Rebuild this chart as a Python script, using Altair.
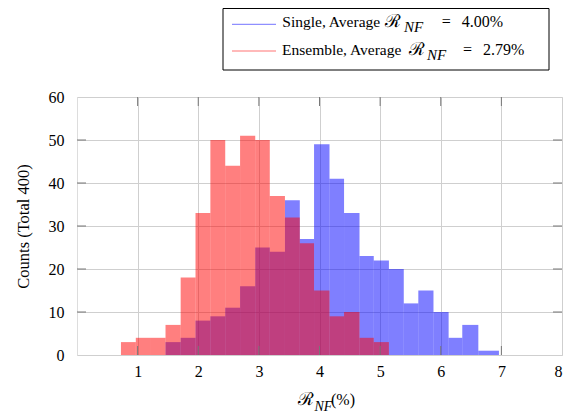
import altair as alt
import pandas as pd

# ---- data ----
bin_edges = [0.725, 0.97, 1.22, 1.46, 1.71, 1.955, 2.20, 2.445, 2.69, 2.94, 3.18,
             3.43, 3.675, 3.91, 4.165, 4.405, 4.66, 4.895, 5.145, 5.39, 5.63,
             5.88, 6.13, 6.355, 6.62, 6.96]
single_counts = [0, 0, 0, 3, 4, 8, 9, 11, 16, 25, 24, 36, 27, 49, 41, 33, 23, 22,
                 20, 12, 15, 10, 4, 7, 1]
ensemble_counts = [3, 4, 4, 7, 18, 33, 50, 44, 51, 50, 37, 32, 26, 15, 9, 10, 4, 3,
                   0, 0, 0, 0, 0, 0, 0]
series_names = ["Single", "Ensemble"]
series_avg = ["4.00%", "2.79%"]
x_ticks = [1, 2, 3, 4, 5, 6, 7, 8]
y_ticks = [0, 10, 20, 30, 40, 50, 60]

rows = []
for name, counts in zip(series_names, [single_counts, ensemble_counts]):
    for i, c in enumerate(counts):
        if c > 0:
            rows.append({"series": name, "x0": bin_edges[i], "x1": bin_edges[i + 1], "count": c})
df = pd.DataFrame(rows)

W, H = 485, 258
FONT = "Liberation Serif"
TICK = 9

xs = alt.Scale(domain=[0, 8], nice=False, zero=False)
ys = alt.Scale(domain=[0, 60], nice=False)

base_x = alt.X("x0:Q", scale=xs,
               axis=alt.Axis(values=x_ticks, format="d", grid=True, gridColor="#cfcfcf", ticks=False,
                             domain=False, labelPadding=8, labelFont=FONT, labelFontSize=16,
                             labelColor="black", title=None))
base_y = alt.Y("count:Q", scale=ys,
               axis=alt.Axis(values=y_ticks, format="d", grid=True, gridColor="#cfcfcf", ticks=False,
                             domain=False, labelPadding=13, labelFont=FONT, labelFontSize=16,
                             labelColor="black", title="Counts (Total 400)", titleFont=FONT,
                             titleFontSize=16.5, titleFontWeight="normal", titleColor="black",
                             titlePadding=17))

bars = alt.Chart(df).mark_rect(opacity=0.5).encode(
    x=base_x, x2="x1:Q", y=base_y, y2=alt.datum(0),
    color=alt.Color("series:N", scale=alt.Scale(domain=series_names, range=["#0000ff", "#ff0000"]),
                    legend=None),
)

single = bars.transform_filter(alt.datum.series == "Single")
ensemble = bars.transform_filter(alt.datum.series == "Ensemble")

xt = pd.DataFrame({"v": x_ticks[:-1]})
yt = pd.DataFrame({"v": y_ticks[1:-1]})
tick_col = "#777777"
xt_bot = alt.Chart(xt).mark_rule(color=tick_col).encode(
    x=alt.X("v:Q", scale=xs), y=alt.value(H), y2=alt.value(H - TICK))
xt_top = alt.Chart(xt).mark_rule(color=tick_col).encode(
    x=alt.X("v:Q", scale=xs), y=alt.value(0), y2=alt.value(TICK))
yt_left = alt.Chart(yt).mark_rule(color=tick_col).encode(
    y=alt.Y("v:Q", scale=ys), x=alt.value(0), x2=alt.value(TICK))
yt_right = alt.Chart(yt).mark_rule(color=tick_col).encode(
    y=alt.Y("v:Q", scale=ys), x=alt.value(W - TICK), x2=alt.value(W))

one = pd.DataFrame({"a": [0]})


def txt(s, x, y, size=15.5, italic=False, font=FONT):
    return alt.Chart(one).mark_text(
        text=s, align="left", baseline="alphabetic", font=font, fontSize=size,
        fontStyle="italic" if italic else "normal", color="black"
    ).encode(x=alt.value(x), y=alt.value(y))


SCRIPT_FONT = "DejaVu Serif"

# legend box
legend_box = alt.Chart(one).mark_rect(fill="white", stroke="black", strokeWidth=1).encode(
    x=alt.value(146), x2=alt.value(472), y=alt.value(-88.5), y2=alt.value(-27))
leg_line1 = alt.Chart(one).mark_rule(color="#0000ff", opacity=0.55).encode(
    x=alt.value(155), x2=alt.value(199), y=alt.value(-72.7))
leg_line2 = alt.Chart(one).mark_rule(color="#ff0000", opacity=0.55).encode(
    x=alt.value(155), x2=alt.value(199), y=alt.value(-46))

legend_layers = [
    legend_box, leg_line1, leg_line2,
    txt(series_names[0] + ", Average", 205.3, -70.3),
    txt("ℛ", 308, -70.3, 18, font=SCRIPT_FONT),
    txt("NF", 327, -65.3, 15, italic=True),
    txt("=", 364.7, -70.3, 16),
    txt(series_avg[0], 384.7, -70.3, 16),
    txt(series_names[1] + ", Average", 205, -42),
    txt("ℛ", 331.5, -42, 18, font=SCRIPT_FONT),
    txt("NF", 350, -37, 15, italic=True),
    txt("=", 386, -42, 16),
    txt(series_avg[1], 406, -42, 16),
]

xtitle_layers = [
    txt("ℛ", 220.5, 308, 18, font=SCRIPT_FONT),
    txt("NF", 237.5, 313.7, 14, italic=True),
    txt("(%)", 254, 308, 16),
]

chart = alt.layer(
    single, ensemble, xt_bot, xt_top, yt_left, yt_right, *legend_layers, *xtitle_layers
).properties(
    width=W, height=H,
    autosize=alt.AutoSizeParams(type="none"),
    padding={"left": 69, "top": 89, "right": 4, "bottom": 60},
).configure_view(stroke="black", strokeWidth=1.2).configure(background="white")

chart.save("out.html", embed_options={"renderer": "svg", "actions": False})
